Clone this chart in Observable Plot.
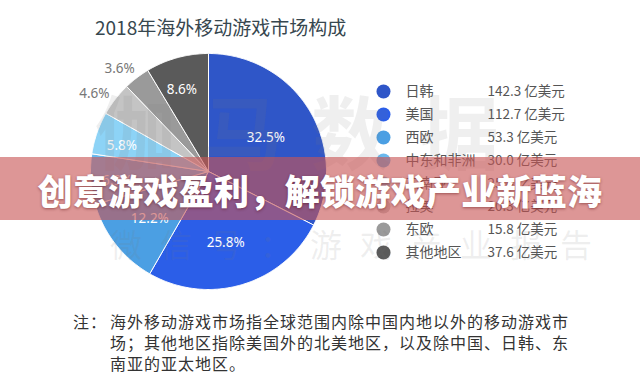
<!DOCTYPE html>
<html>
<head>
<meta charset="utf-8">
<script src="https://cdn.jsdelivr.net/npm/d3@7"></script>
<script src="https://cdn.jsdelivr.net/npm/@observablehq/plot@0.6"></script>
<style>
  html, body { margin: 0; padding: 0; background: #fff; }
  #page { position: relative; width: 640px; height: 376px; overflow: hidden; background: #fff;
          font-family: "Noto Sans CJK SC", "Noto Sans", sans-serif; }
  #title { position: absolute; left: 95px; top: 13px; font-size: 19px; color: #37474f; letter-spacing: 0px; white-space: nowrap; }
  #pie { position: absolute; left: 0; top: 44px; }
  #legend { position: absolute; left: 370px; top: 70px; }
  #wm1 { position: absolute; left: 95px; top: 70px; font-size: 80px; font-weight: 700; color: rgba(120,120,120,0.12); letter-spacing: 28px; white-space: nowrap; }
  #wm2 { position: absolute; left: 110px; top: 220px; font-size: 32px; color: rgba(120,120,120,0.12); letter-spacing: 18px; white-space: nowrap; }
  #noteLabel { position: absolute; left: 73px; top: 311px; font-size: 16px; color: #333; line-height: 21px; letter-spacing: 1px; }
  #note { position: absolute; left: 110px; top: 311px; font-size: 16px; color: #333; line-height: 21px; letter-spacing: 1px; white-space: nowrap; }
  #banner { position: absolute; left: 0; top: 157px; width: 640px; height: 63px; background: rgba(200, 85, 85, 0.62);
            display: flex; align-items: center; justify-content: center; }
  #banner span { color: #fff; font-size: 35px; font-weight: 900; letter-spacing: 0.3px; white-space: nowrap;
                 text-shadow: 0 1px 3px rgba(80,0,0,0.45); margin-top: 2px; }
</style>
</head>
<body>
<div id="page">
  <div id="title">2018年海外移动游戏市场构成</div>
  <div id="pie"></div>
  <div id="legend"></div>
  <div id="wm1">伽马数据</div>
  <div id="wm2">微信号：游戏产业报告</div>
  <div id="noteLabel">注：</div>
  <div id="note">海外移动游戏市场指全球范围内除中国内地以外的移动游戏市<br>场；其他地区指除美国外的北美地区，以及除中国、日韩、东<br>南亚的亚太地区。</div>
  <div id="banner"><span>创意游戏盈利，解锁游戏产业新蓝海</span></div>
</div>
<script>
const regions = ["日韩", "美国", "西欧", "中东和非洲", "东南亚", "拉美", "东欧", "其他地区"];
const revenue = [142.3, 112.7, 53.3, 30.0, 25.4, 20.3, 15.8, 37.6];
const shares  = [32.5, 25.8, 12.2, 6.9, 5.8, 4.6, 3.6, 8.6];
const colors  = ["#2f56c8", "#2b5ee8", "#4b9fe3", "#6ab9ee", "#8dd3f6", "#c4c4c4", "#9a9a9a", "#5a5a5a"];
const unitLabel = "亿美元";

// pie geometry from data
const arcs = d3.pie().sort(null).value(d => d)(shares);
const poly = [];
arcs.forEach((a, i) => {
  const n = Math.max(2, Math.ceil((a.endAngle - a.startAngle) / 0.01));
  poly.push({region: regions[i], x: 0, y: 0});
  for (let k = 0; k <= n; k++) {
    const t = a.startAngle + (a.endAngle - a.startAngle) * k / n;
    poly.push({region: regions[i], x: Math.sin(t), y: Math.cos(t)});
  }
  poly.push({region: regions[i], x: 0, y: 0});
});
const labels = arcs.map((a, i) => {
  const m = (a.startAngle + a.endAngle) / 2;
  const p = shares[i];
  const r = p < 5 ? 1.17 : p < 10 ? 0.75 : 0.6;
  return {region: regions[i], text: p.toFixed(1) + "%", x: Math.sin(m) * r, y: Math.cos(m) * r, outside: p < 5};
});

const R = 118, cx = 208, cy = 171 - 44, W = 340, H = 260;
const pie = Plot.plot({
  width: W, height: H, margin: 0,
  x: {domain: [-cx / R, (W - cx) / R], axis: null},
  y: {domain: [-(H - cy) / R, cy / R], axis: null},
  color: {domain: regions, range: colors},
  style: {background: "transparent", fontFamily: "Noto Sans, sans-serif"},
  marks: [
    Plot.line(poly, {x: "x", y: "y", z: "region", fill: "region", stroke: "#fff", strokeWidth: 1, curve: "linear"}),
    Plot.text(labels.filter(d => !d.outside), {x: "x", y: "y", text: "text", fill: "#fff", fontSize: 13.5, dx: -3, dy: 3}),
    Plot.text(labels.filter(d => d.outside), {x: "x", y: "y", text: "text", fill: "#777", fontSize: 13.5, dx: -5, dy: 7})
  ]
});
document.getElementById("pie").appendChild(pie);

const legendRows = regions.map((r, i) => ({region: r, value: revenue[i].toFixed(1) + " " + unitLabel}));
const legend = Plot.plot({
  width: 230, height: 200, margin: 0,
  y: {domain: regions, axis: null, range: [20, 182], padding: 0},
  color: {domain: regions, range: colors},
  style: {background: "transparent", fontFamily: "Noto Sans CJK SC, sans-serif"},
  marks: [
    Plot.dot(legendRows, {y: "region", fill: "region", r: 7, frameAnchor: "left", dx: 13}),
    Plot.text(legendRows, {y: "region", text: "region", frameAnchor: "left", dx: 35, textAnchor: "start", fill: "#555", fontSize: 14}),
    Plot.text(legendRows, {y: "region", text: "value", frameAnchor: "left", dx: 117, textAnchor: "start", fill: "#555", fontSize: 13.5})
  ]
});
document.getElementById("legend").appendChild(legend);
</script>
</body>
</html>
